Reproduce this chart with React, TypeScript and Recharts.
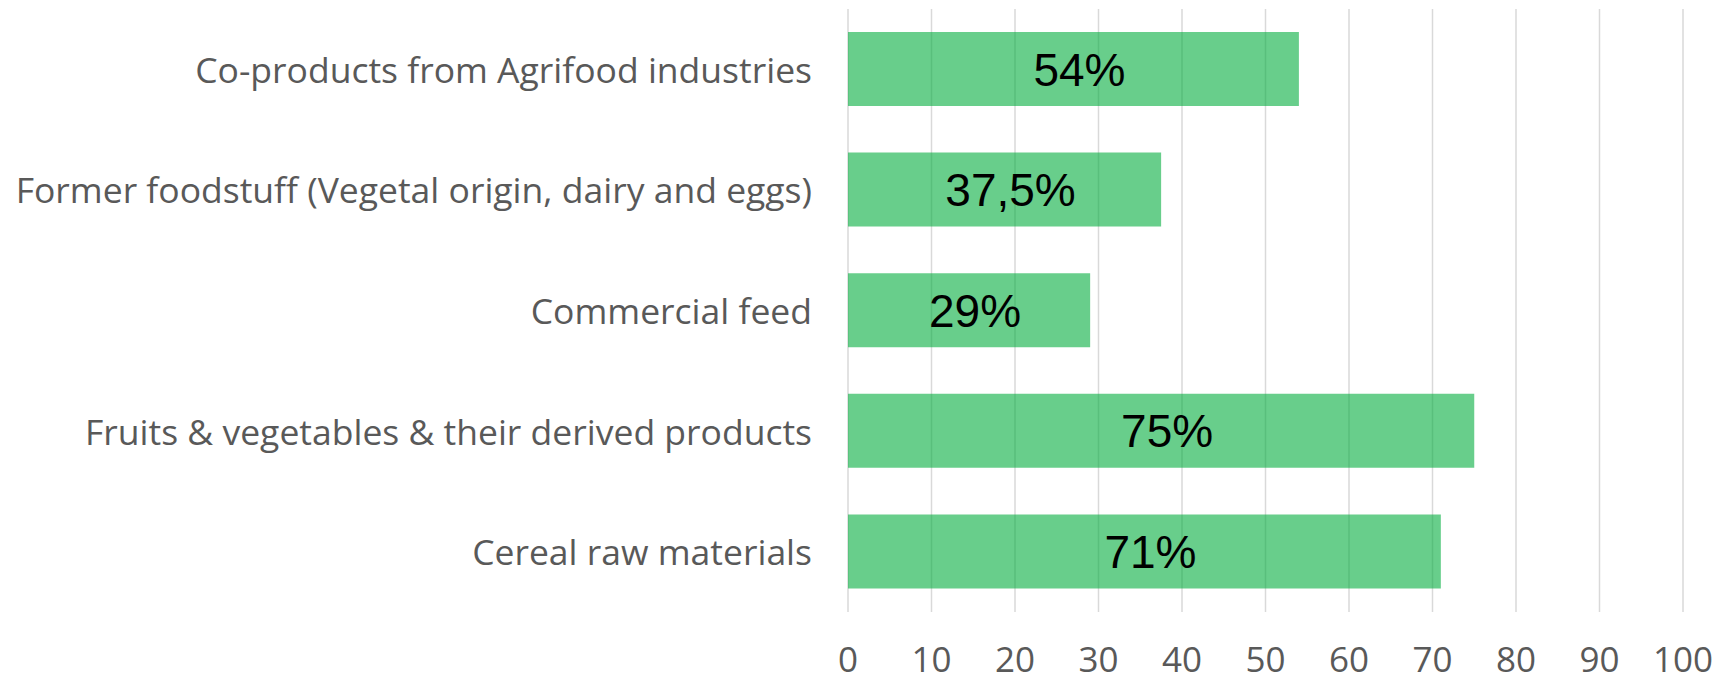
import { Bar, BarChart, CartesianGrid, LabelList, XAxis, YAxis } from 'recharts'

const categories = [
  'Co-products from Agrifood industries',
  'Former foodstuff (Vegetal origin, dairy and eggs)',
  'Commercial feed',
  'Fruits & vegetables & their derived products',
  'Cereal raw materials',
]
const shares = [54, 37.5, 29, 75, 71]
const xTicks = [0, 10, 20, 30, 40, 50, 60, 70, 80, 90, 100]

const data = categories.map((name, i) => ({ name, value: shares[i] }))

const AXIS_FONT = '"Open Sans", "Noto Sans", sans-serif'
const LABEL_FONT = '"Liberation Sans", Arial, sans-serif'

function CategoryTick(props: any) {
  const { x, y, payload } = props
  return (
    <text x={x - 36} y={y} dy={13.5} textAnchor="end" fill="#595959" fontFamily={AXIS_FONT} fontSize={35.5}>
      {payload.value}
    </text>
  )
}

function ValueTick(props: any) {
  const { x, y, payload } = props
  return (
    <text x={x} y={y} dy={60} textAnchor="middle" fill="#595959" fontFamily={AXIS_FONT} fontSize={35}>
      {payload.value}
    </text>
  )
}

function PercentLabel(props: any) {
  const { x, y, width, height, value } = props
  const txt = String(value).replace('.', ',') + '%'
  return (
    <text
      x={x + width / 2 + 6}
      y={y + height / 2 + 16.5}
      textAnchor="middle"
      fill="#000000"
      fontFamily={LABEL_FONT}
      fontSize={46}
    >
      {txt}
    </text>
  )
}

export default function App() {
  return (
    <div style={{ position: 'absolute', left: 0, top: 0, background: '#fff' }}>
      <BarChart
        width={1729}
        height={681}
        data={data}
        layout="vertical"
        margin={{ top: 9, right: 46, bottom: 0, left: 0 }}
      >
        <CartesianGrid horizontal={false} stroke="#d9d9d9" strokeWidth={1.5} />
        <XAxis
          type="number"
          domain={[0, 100]}
          ticks={xTicks}
          axisLine={false}
          tickLine={false}
          tickSize={0}
          tickMargin={0}
          height={69}
          tick={<ValueTick />}
          interval={0}
        />
        <YAxis
          type="category"
          dataKey="name"
          width={848}
          axisLine={false}
          tickLine={false}
          tickSize={0}
          tickMargin={0}
          tick={<CategoryTick />}
          interval={0}
        />
        <Bar dataKey="value" fill="#03AD3E" fillOpacity={0.6} barSize={74} isAnimationActive={false}>
          <LabelList dataKey="value" content={<PercentLabel />} />
        </Bar>
      </BarChart>
    </div>
  )
}
